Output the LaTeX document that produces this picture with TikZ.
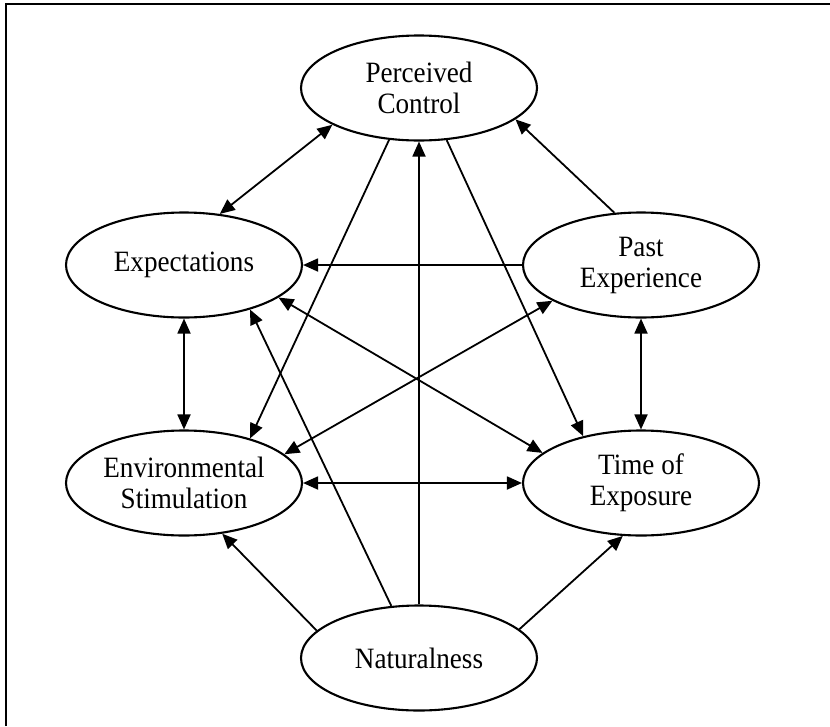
\documentclass[tikz,border=0pt]{standalone}
\usepackage{fontspec}
\setmainfont[FakeStretch=0.92]{Liberation Serif}
\usetikzlibrary{arrows.meta,shapes.geometric}
\begin{document}
\begin{tikzpicture}[x=1pt,y=-1pt,
  var/.style={ellipse,draw,line width=2.1pt,minimum width=236pt,minimum height=105pt,inner sep=0pt,align=center,font=\fontsize{29.5}{31}\selectfont},
  conn/.style={line width=1.8pt,-{Triangle[length=15pt,width=13pt]}},
  bi/.style={line width=1.8pt,{Triangle[length=15pt,width=13pt]}-{Triangle[length=15pt,width=13pt]}}]
\useasboundingbox (0,0) rectangle (830,726);
\draw[line width=2.2pt] (6,726) -- (6,4) -- (830,4);
\node[var] (pc) at (419,88) {Perceived\\Control};
\node[var] (ex) at (184,265) {Expectations};
\node[var] (pe) at (641,265) {Past\\Experience};
\node[var] (es) at (184,483) {Environmental\\Stimulation};
\node[var] (te) at (641,483) {Time of\\Exposure};
\node[var] (na) at (419,658) {Naturalness};
\draw[bi] (ex.55) -- (pc.203);
\draw[conn] (pe.117) -- (pc.342);
\draw[conn] (pe.west) -- (ex.east);
\draw[conn] (pc.240) -- (es.34);
\draw[conn] (na.north) -- (pc.south);
\draw[conn] (pc.298) -- (te.141);
\draw[bi] (ex.south) -- (es.north);
\draw[bi] (pe.south) -- (te.north);
\draw[conn] (na.118) -- (ex.326);
\draw[bi] (ex.341) -- (te.163);
\draw[bi] (es.16) -- (pe.202);
\draw[bi] (es.east) -- (te.west);
\draw[conn] (na.165) -- (es.307);
\draw[conn] (na.16) -- (te.251);
\end{tikzpicture}
\end{document}
